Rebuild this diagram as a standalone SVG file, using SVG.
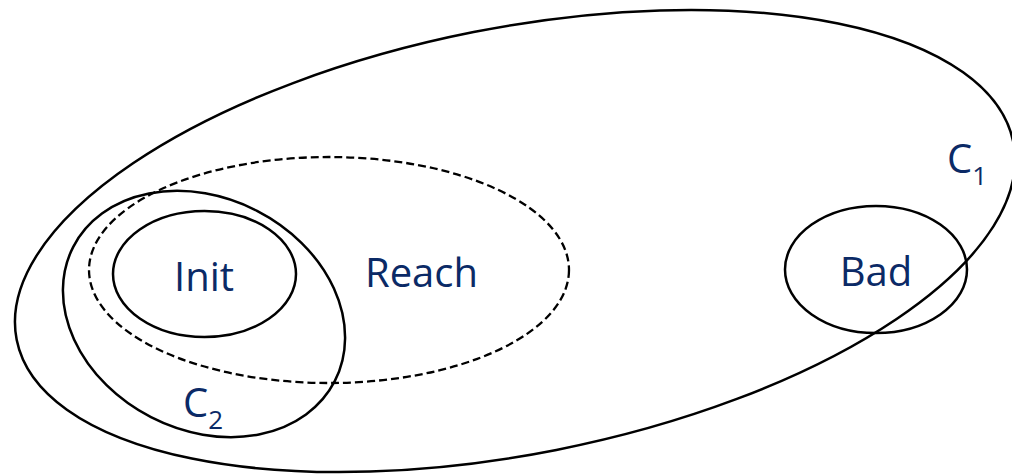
<svg xmlns="http://www.w3.org/2000/svg" width="1012" height="474" viewBox="0 0 1012 474">
<style>
.s{fill:none;stroke:#000;stroke-width:2.5}
.d{fill:none;stroke:#000;stroke-width:2.3;stroke-dasharray:8 4}
.t{font-family:"Open Sans","Liberation Sans",sans-serif;font-size:40px;fill:#0b2a66}
.sub{font-size:26px}
</style>
<rect width="1012" height="474" fill="#fff"/>
<g id="C1">
<ellipse class="s" cx="515" cy="241" rx="508" ry="213" transform="rotate(-11.2 515 241)"/>
<text class="t" x="947" y="173">C<tspan class="sub" dy="12">1</tspan></text>
</g>
<g id="Reach">
<ellipse class="d" cx="329" cy="270" rx="240" ry="113"/>
<text class="t" x="421.5" y="287" text-anchor="middle">Reach</text>
</g>
<g id="C2">
<ellipse class="s" cx="204" cy="314" rx="147" ry="116" transform="rotate(27.2 204 314)"/>
<text class="t" x="183" y="417">C<tspan class="sub" dy="12">2</tspan></text>
</g>
<g id="Init">
<ellipse class="s" cx="204.5" cy="274" rx="91.5" ry="63"/>
<text class="t" x="204" y="291" text-anchor="middle">Init</text>
</g>
<g id="Bad">
<ellipse class="s" cx="876" cy="269.5" rx="91" ry="63.5"/>
<text class="t" x="876" y="286" text-anchor="middle">Bad</text>
</g>
<g id="connectors"></g>
</svg>
